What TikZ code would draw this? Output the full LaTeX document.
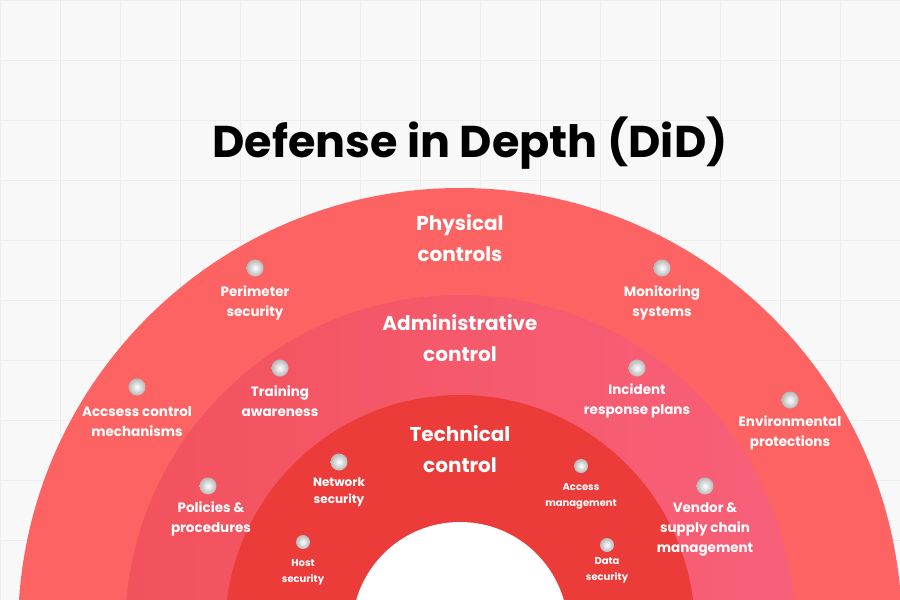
\documentclass[tikz,border=0pt]{standalone}
\usepackage{fontspec}
\setmainfont{Poppins}
\usepackage{tikz}
\definecolor{bgc}{HTML}{F8F8F8}
\definecolor{gridc}{HTML}{EDEDED}
\definecolor{outerc}{HTML}{FD6363}
\definecolor{midc}{HTML}{F2525C}
\definecolor{midr}{HTML}{F8607A}
\definecolor{innerc}{HTML}{EC3C3A}
\tikzset{
  lbl/.style={text=white,font=\bfseries\fontsize{13.5}{20}\selectfont,align=center},
  smalllbl/.style={text=white,font=\bfseries\fontsize{10}{16}\selectfont,align=center},
  head/.style={text=white,font=\bfseries\fontsize{20}{31}\selectfont,align=center},
  dot/.style={circle,minimum size=17pt,inner sep=0pt,shade,inner color=white,outer color=black!28},
  smalldot/.style={circle,minimum size=14pt,inner sep=0pt,shade,inner color=white,outer color=black!28}
}
\begin{document}
\begin{tikzpicture}[x=1pt,y=-1pt]
\useasboundingbox (0,0) rectangle (900,600);
\clip (0,0) rectangle (900,600);
\fill[bgc] (0,0) rectangle (900,600);
\foreach \g in {0,60,...,900} \draw[gridc] (\g,0) -- (\g,600);
\foreach \g in {0,60,...,600} \draw[gridc] (0,\g) -- (900,\g);
% rings
\fill[outerc] (460,630) circle (442);
\shade[left color=midc,right color=midr] (460,630) circle (335);
\fill[innerc] (460,630) circle (235);
\fill[white] (460,630) circle (108);
\node[font=\bfseries\fontsize{44.5}{52}\selectfont] (title) at (470,143) {Defense in Depth (DiD)};
\node[head] (phys) at (460,238) {Physical\\controls};
\node[head] (adm) at (460,338) {Administrative\\control};
\node[head] (tech) at (460,449) {Technical\\control};
% outer ring
\node[dot] (d1) at (255,268) {};
\node[lbl] (t1) at (255,303) {Perimeter\\security};
\node[dot] (d2) at (662,268) {};
\node[lbl] (t2) at (662,303) {Monitoring\\systems};
\node[dot] (d3) at (137,387) {};
\node[lbl] (t3) at (137,422) {Accsess control\\mechanisms};
\node[dot] (d4) at (790,400) {};
\node[lbl] (t4) at (790,433) {Environmental\\protections};
% middle ring
\node[dot] (d5) at (280,368) {};
\node[lbl] (t5) at (280,401) {Training\\awareness};
\node[dot] (d6) at (637,368) {};
\node[lbl] (t6) at (637,401) {Incident\\response plans};
\node[dot] (d7) at (208,486) {};
\node[lbl] (t7) at (211,519) {Policies \&\\procedures};
\node[dot] (d8) at (705,486) {};
\node[lbl] (t8) at (705,529) {Vendor \&\\supply chain\\management};
% inner ring
\node[dot] (d9) at (339,462) {};
\node[smalllbl,font=\bfseries\fontsize{12}{17}\selectfont] (t9) at (339,492) {Network\\security};
\node[smalldot] (d10) at (581,466) {};
\node[smalllbl] (t10) at (581,496) {Access\\management};
\node[smalldot] (d11) at (303,542) {};
\node[smalllbl] (t11) at (303,572) {Host\\security};
\node[smalldot] (d12) at (607,545) {};
\node[smalllbl] (t12) at (607,570) {Data\\security};
\end{tikzpicture}
\end{document}
